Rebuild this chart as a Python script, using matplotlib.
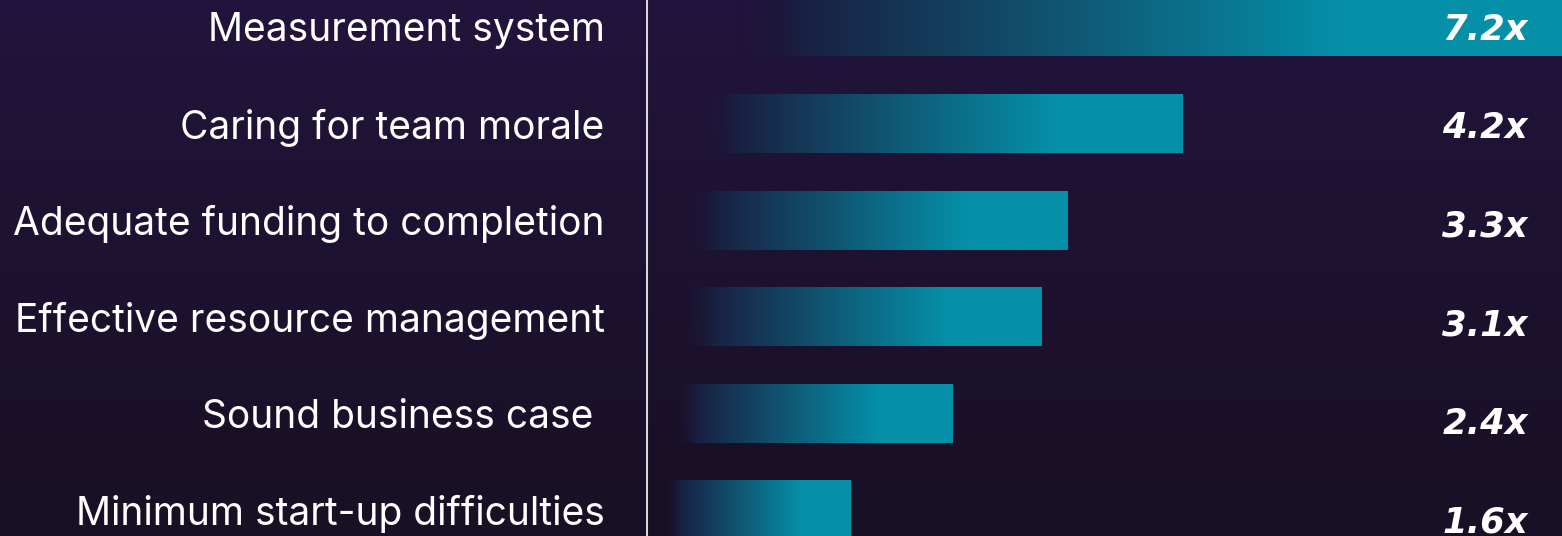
import numpy as np
import matplotlib
matplotlib.use("Agg")
import matplotlib.pyplot as plt
from matplotlib.colors import to_rgb

# ---- data ----
categories = [
    "Measurement system",
    "Caring for team morale",
    "Adequate funding to completion",
    "Effective resource management",
    "Sound business case ",
    "Minimum start-up difficulties",
]
values = [7.2, 4.2, 3.3, 3.1, 2.4, 1.6]
value_labels = ["7.2x", "4.2x", "3.3x", "3.1x", "2.4x", "1.6x"]

# ---- style ----
W, H, DPI = 1562, 536, 100
BG_TOP = np.array(to_rgb("#22143c"))
BG_BOT = np.array(to_rgb("#181024"))
GRAD_START = np.array(to_rgb("#1a1b3d"))
TEAL = np.array(to_rgb("#0590a8"))
RAMP0, RAMP1 = 0.14, 0.76
BAR_H = 0.61

fig = plt.figure(figsize=(W / DPI, H / DPI), dpi=DPI)

# background gradient
bg_ax = fig.add_axes([0, 0, 1, 1], zorder=0)
t = np.linspace(0, 1, 256)[:, None, None]
bg = BG_TOP * (1 - t) + BG_BOT * t
bg = np.repeat(bg, 4, axis=1)
bg_ax.imshow(bg, aspect="auto", extent=(0, 1, 0, 1), interpolation="bilinear")
bg_ax.axis("off")

# main axes: left edge at the vertical line
x0_frac = 645.5 / W
ax = fig.add_axes([x0_frac, 0, 1 - x0_frac, 1], zorder=1)
ax.patch.set_alpha(0)

px_per_unit = 127.7
xmax = (W - 645.5) / px_per_unit
row_px = 96.7
first_px = 26.8
ytop = -first_px / row_px
ybot = (H - first_px) / row_px

N = 400
for i, v in enumerate(values):
    f = np.linspace(0, 1, N)
    tt = np.clip((f - RAMP0) / (RAMP1 - RAMP0), 0, 1)
    rgb = GRAD_START[None, :] * (1 - tt[:, None]) + TEAL[None, :] * tt[:, None]
    alpha = np.clip((f - 0.10) / 0.07, 0, 1)
    rgba = np.concatenate([rgb, alpha[:, None]], axis=1)[None, :, :]
    ax.imshow(rgba, extent=(0, v, i + BAR_H / 2, i - BAR_H / 2),
              aspect="auto", interpolation="bilinear", zorder=2)

ax.set_xlim(0, xmax)
ax.set_ylim(ybot, ytop)
ax.set_aspect("auto")

# vertical separator line
ax.axvline(0, color="#d9d9d9", lw=2.2, zorder=3)

# category labels as y tick labels
ax.set_yticks(range(len(categories)))
ax.set_yticklabels(categories, fontsize=28, color="white", family="Inter")
ax.tick_params(axis="y", length=0, pad=29.5)
ax.set_xticks([])
for s in ax.spines.values():
    s.set_visible(False)

# value labels
for i, lab in enumerate(value_labels):
    ax.text(0.963, i + 0.1365 + 0.0186 * i, lab, transform=ax.get_yaxis_transform(),
            ha="right", va="baseline", color="white", fontsize=25.5,
            fontweight="bold", fontstyle="italic", family="DejaVu Sans", zorder=4)

fig.savefig("out.png", dpi=DPI)
